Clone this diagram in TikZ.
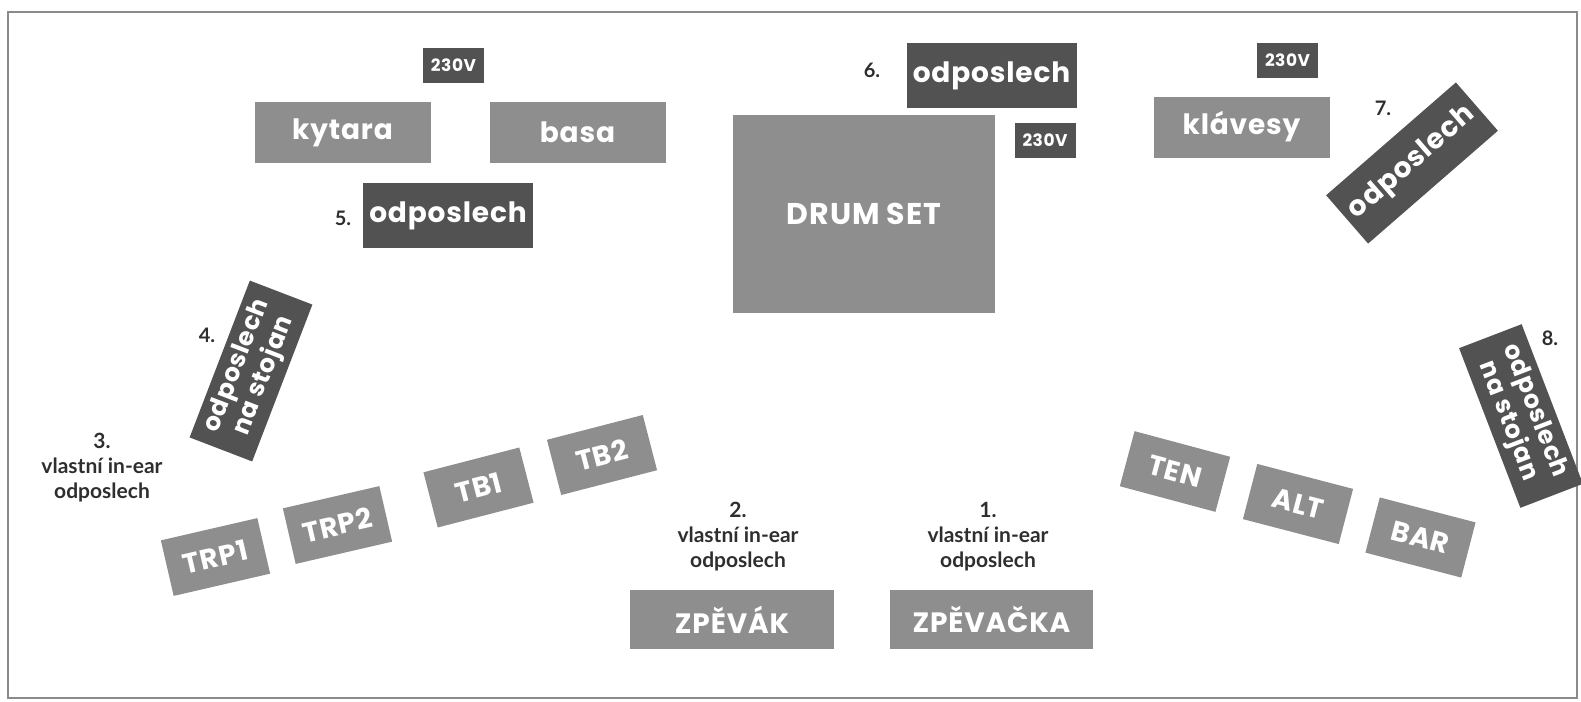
\documentclass[tikz,border=0pt]{standalone}
\usepackage{fontspec}
\newfontfamily\boxfont{Poppins}[LetterSpace=3.0]
\newfontfamily\lblfont{Lato}
\definecolor{lightbox}{HTML}{8E8E8E}
\definecolor{darkbox}{HTML}{525252}
\definecolor{lblc}{HTML}{2E2E2E}
\definecolor{framec}{HTML}{8A8A8A}
\begin{document}
\begin{tikzpicture}[x=0.5pt,y=-0.5pt,
  instbox/.style={fill=lightbox,text=white,inner sep=0pt,font=\boxfont\bfseries\fontsize{14}{16}\selectfont},
  monbox/.style={instbox,fill=darkbox,minimum width=85pt,minimum height=32.5pt},
  voltbox/.style={instbox,fill=darkbox,minimum width=30.5pt,minimum height=17.5pt,font=\boxfont\bfseries\fontsize{8.5}{10}\selectfont},
  hornbox/.style={instbox,minimum width=49.5pt,minimum height=28.5pt},
  widebox/.style={instbox,minimum width=88pt,minimum height=30.5pt},
  standbox/.style={instbox,fill=darkbox,minimum width=84pt,minimum height=33.5pt,align=center,font=\boxfont\bfseries\fontsize{12.5}{12.5}\selectfont},
  numlbl/.style={text=lblc,inner sep=0pt,font=\lblfont\bfseries\fontsize{10}{12}\selectfont},
  notelbl/.style={text=lblc,inner sep=0pt,align=center,font=\lblfont\bfseries\fontsize{10.5}{12.5}\selectfont}
]
\useasboundingbox (0,0) rectangle (1581,702);
\draw[framec,line width=1pt] (8,12) rectangle (1577,698);

% top row
\node[voltbox] (v1) at (453.5,65.5) {230V};
\node[widebox] (kytara) at (342.5,132.5) {kytara};
\node[widebox] (basa) at (577.5,132.5) {basa};
\node[monbox] (m5) at (448,215.5) {odposlech};
\node[numlbl] (n5) at (343,218) {5.};

\node[monbox] (m6) at (991.5,75.5) {odposlech};
\node[numlbl] (n6) at (872,70) {6.};
\node[instbox,minimum width=131pt,minimum height=99pt,font=\boxfont\bfseries\fontsize{15}{17}\selectfont] (drum) at (864,214) {DRUM SET};
\node[voltbox] (v2) at (1045,140) {230V};

\node[voltbox] (v3) at (1287.5,60.5) {230V};
\node[widebox] (klav) at (1241.5,127) {klávesy};
\node[monbox,minimum width=86pt,minimum height=32pt,rotate=41] (m7) at (1412,163) {odposlech};
\node[numlbl] (n7) at (1383,108) {7.};

% left side
\node[standbox,rotate=69] (m4) at (251,371) {odposlech\\na stojan};
\node[numlbl] (n4) at (207,335) {4.};
\node[notelbl] (l3) at (102,468) {3.\\vlastní in-ear\\odposlech};

\node[hornbox,rotate=13] (trp1) at (215.5,557) {TRP1};
\node[hornbox,rotate=13] (trp2) at (337.5,525) {TRP2};
\node[hornbox,rotate=14.5] (tb1) at (478.5,487.5) {TB1};
\node[hornbox,rotate=14.5] (tb2) at (602,455) {TB2};

% singers
\node[notelbl] (l2) at (738,537) {2.\\vlastní in-ear\\odposlech};
\node[instbox,minimum width=102pt,minimum height=29.5pt] (zpevak) at (732,619.5) {ZPĚVÁK};
\node[notelbl] (l1) at (988,537) {1.\\vlastní in-ear\\odposlech};
\node[instbox,minimum width=101.5pt,minimum height=29.5pt] (zpevacka) at (991.5,619.5) {ZPĚVAČKA};

% right side
\node[hornbox,rotate=-15] (ten) at (1175,471.5) {TEN};
\node[hornbox,rotate=-14.6] (alt) at (1298,504) {ALT};
\node[hornbox,rotate=-14.6] (bar) at (1420.5,537.5) {BAR};
\node[standbox,minimum width=85.5pt,rotate=-69] (m8) at (1521,416) {odposlech\\na stojan};
\node[numlbl] (n8) at (1550,338) {8.};
\end{tikzpicture}
\end{document}
